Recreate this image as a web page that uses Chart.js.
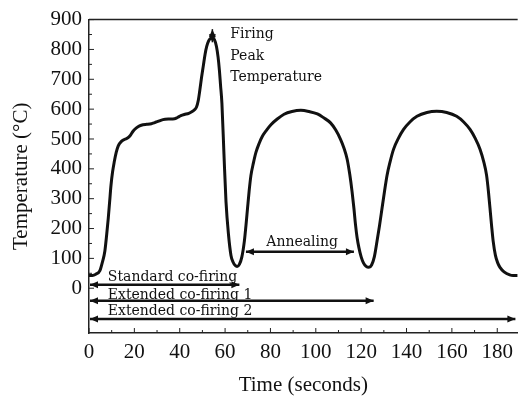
<!DOCTYPE html>
<html>
<head>
<meta charset="utf-8">
<script src="https://cdn.jsdelivr.net/npm/chart.js@4"></script>
<style>
  html, body { margin: 0; padding: 0; background: #fff; }
  #wrap { width: 520px; height: 398px; }
</style>
</head>
<body>
<div id="wrap"><canvas id="chart"></canvas></div>
<script>
// firing profile
const timeSec = [0, 1.5, 3, 4.8, 6, 7, 7.8, 8.5, 9.1, 9.7, 10.4, 11.1, 12, 12.9, 14.3, 15.8, 17, 18, 19.5, 20.9, 22.3, 23.8, 25.5, 27.5, 29, 30.4, 32.6, 35, 37.7, 39, 40.5, 42, 44, 45.5,
  46.5, 47.4, 48.2, 48.8, 49.6, 50.4, 51.2, 51.9, 52.7, 53.5, 54.4, 55.3, 56.2, 56.9, 57.5, 58, 58.6, 59.5, 60.4, 61.5, 62.6, 63.5, 64.5, 65.3, 66.3, 67.4, 68.5, 69.2, 69.9,
  70.6, 71.4, 72.5, 73.6, 75, 76.5, 78.3, 80.2, 83, 86, 89.5, 93.4, 97, 100.7, 103.5, 106.5, 108.8, 110.9, 112.4, 113.8, 115, 116, 116.8, 117.5, 118.2, 119, 120, 121, 122.2, 123.4,
  124.6, 125.8, 127, 128.1, 129.2, 130.3, 131.4, 132.8, 134.3, 136.4, 138.7, 141.5, 144.6, 149, 153.3, 157.7, 162.1, 165.2, 168, 170.3, 172.4, 174, 175.3, 176.1, 176.8,
  177.5, 178.2, 179.2, 180.2, 181.2, 183, 185.5, 187, 189];
const tempC = [43, 43, 47, 59, 90, 125, 180, 235, 290, 345, 390, 422, 455, 477, 492, 499, 503, 510, 527, 537, 544, 548, 549, 551, 555, 559, 565, 567, 568, 572, 578, 582, 586, 592,
  598, 607, 630, 660, 705, 745, 785, 810, 828, 836, 838, 833, 810, 775, 730, 680, 620, 450, 290, 180, 110, 88, 76, 73, 80, 105, 158, 210, 268,
  325, 378, 420, 455, 485, 510, 530, 548, 567, 583, 592, 596, 592, 584, 571, 554, 530, 499, 470, 433, 380, 323, 268, 213, 170, 136, 105, 85, 73, 70,
  78, 105, 158, 210, 268, 325, 378, 425, 466, 502, 532, 557, 576, 589, 593, 589, 576, 557, 532, 502, 466, 425, 378, 325, 268,
  210, 158, 110, 85, 70, 55, 45, 43, 43];

const xTicks = [0, 20, 40, 60, 80, 100, 120, 140, 160, 180];
const yTicks = [0, 100, 200, 300, 400, 500, 600, 700, 800, 900];

// process spans drawn as arrows under the curve
const spanLabels = ['Standard co-firing', 'Extended co-firing 1', 'Extended co-firing 2'];
const spanEnds = [66.3, 125.5, 188];
const spanLevels = [12, -42, -103];
const spanTextLevels = [37, -23, -78];
const annealSpan = [69.2, 116.8];
const annealLevel = 122;
const annealText = 'Annealing';
const peakArrow = [54.4, 824, 868];
const peakText = ['Firing', 'Peak', 'Temperature'];
const peakTextLevels = [851, 778, 706];

function arrow(ctx, x1, y1, x2, y2, startHead, endHead) {
  const len = 8, hw = 3.5;
  const ang = Math.atan2(y2 - y1, x2 - x1);
  ctx.beginPath();
  ctx.moveTo(x1, y1);
  ctx.lineTo(x2, y2);
  ctx.stroke();
  const head = (x, y, a) => {
    ctx.beginPath();
    ctx.moveTo(x, y);
    ctx.lineTo(x - len * Math.cos(a) + hw * Math.sin(a), y - len * Math.sin(a) - hw * Math.cos(a));
    ctx.lineTo(x - len * Math.cos(a) - hw * Math.sin(a), y - len * Math.sin(a) + hw * Math.cos(a));
    ctx.closePath();
    ctx.fill();
  };
  if (endHead) head(x2, y2, ang);
  if (startHead) head(x1, y1, ang + Math.PI);
}

const decor = {
  id: 'decor',
  afterDraw(chart) {
    const { ctx, chartArea: a, scales: { x, y } } = chart;
    ctx.save();
    ctx.strokeStyle = '#222';
    ctx.lineWidth = 1.5;
    ctx.beginPath();
    ctx.moveTo(a.left, a.top);
    ctx.lineTo(a.right, a.top);
    ctx.stroke();

    // inward ticks, major + minor
    ctx.lineWidth = 1;
    ctx.beginPath();
    yTicks.forEach((v, i) => {
      const py = y.getPixelForValue(v);
      ctx.moveTo(a.left, py); ctx.lineTo(a.left + 5, py);
      if (i < yTicks.length - 1) {
        const pm = y.getPixelForValue((v + yTicks[i + 1]) / 2);
        ctx.moveTo(a.left, pm); ctx.lineTo(a.left + 3, pm);
      }
    });
    xTicks.forEach((v, i) => {
      const px = x.getPixelForValue(v);
      ctx.moveTo(px, a.bottom); ctx.lineTo(px, a.bottom - 5);
      if (i < xTicks.length - 1) {
        const pm = x.getPixelForValue((v + xTicks[i + 1]) / 2);
        ctx.moveTo(pm, a.bottom); ctx.lineTo(pm, a.bottom - 3);
      }
    });
    ctx.stroke();

    // span arrows
    ctx.strokeStyle = '#111';
    ctx.fillStyle = '#111';
    ctx.lineWidth = 2.5;
    const x0 = x.getPixelForValue(0);
    spanEnds.forEach((e, i) => {
      const py = y.getPixelForValue(spanLevels[i]);
      arrow(ctx, x0 + 1, py, x.getPixelForValue(e), py, true, true);
    });
    const ay = y.getPixelForValue(annealLevel);
    arrow(ctx, x.getPixelForValue(annealSpan[0]), ay, x.getPixelForValue(annealSpan[1]), ay, true, true);
    ctx.lineWidth = 1.5;
    const px = x.getPixelForValue(peakArrow[0]);
    arrow(ctx, px, y.getPixelForValue(peakArrow[1]), px, y.getPixelForValue(peakArrow[2]), true, true);

    // labels
    ctx.font = '14px "DejaVu Serif"';
    ctx.textBaseline = 'middle';
    ctx.textAlign = 'left';
    spanLabels.forEach((t, i) => {
      ctx.fillText(t, x.getPixelForValue(8.3), y.getPixelForValue(spanTextLevels[i]));
    });
    ctx.textAlign = 'center';
    ctx.fillText(annealText, x.getPixelForValue(94), y.getPixelForValue(155));
    ctx.textAlign = 'left';
    peakText.forEach((t, i) => {
      ctx.fillText(t, x.getPixelForValue(62.3), y.getPixelForValue(peakTextLevels[i]));
    });
    ctx.restore();
  }
};

const tickFont = { family: '"Liberation Serif", serif', size: 21 };

new Chart(document.getElementById('chart'), {
  type: 'line',
  data: {
    datasets: [{
      data: timeSec.map((t, i) => ({ x: t, y: tempC[i] })),
      borderColor: '#111',
      borderWidth: 3,
      pointRadius: 0,
      cubicInterpolationMode: 'monotone',
      fill: false
    }]
  },
  options: {
    responsive: true,
    maintainAspectRatio: false,
    animation: false,
    layout: { padding: { top: 15, right: 0, left: 0, bottom: 0 } },
    plugins: { legend: { display: false }, tooltip: { enabled: false } },
    scales: {
      x: {
        type: 'linear',
        min: 0,
        max: 189,
        afterBuildTicks: s => { s.ticks = xTicks.map(v => ({ value: v })); },
        afterFit: s => { s.height = 65; },
        grid: { display: false, drawTicks: false },
        border: { display: true, color: '#222', width: 1.5 },
        ticks: { color: '#111', font: tickFont, padding: 7, maxRotation: 0 },
        title: { display: true, text: 'Time (seconds)', color: '#111', font: tickFont, padding: { top: 0, bottom: 0 } }
      },
      y: {
        min: -150,
        max: 900,
        afterBuildTicks: s => { s.ticks = yTicks.map(v => ({ value: v })); },
        afterFit: s => { s.width = 89; },
        grid: { display: false, drawTicks: false },
        border: { display: true, color: '#222', width: 1.5 },
        ticks: { color: '#111', font: tickFont, padding: 7 },
        title: { display: true, text: 'Temperature (°C)', color: '#111', font: tickFont, padding: { top: 9, bottom: 0 } }
      }
    }
  },
  plugins: [decor]
});
</script>
</body>
</html>
